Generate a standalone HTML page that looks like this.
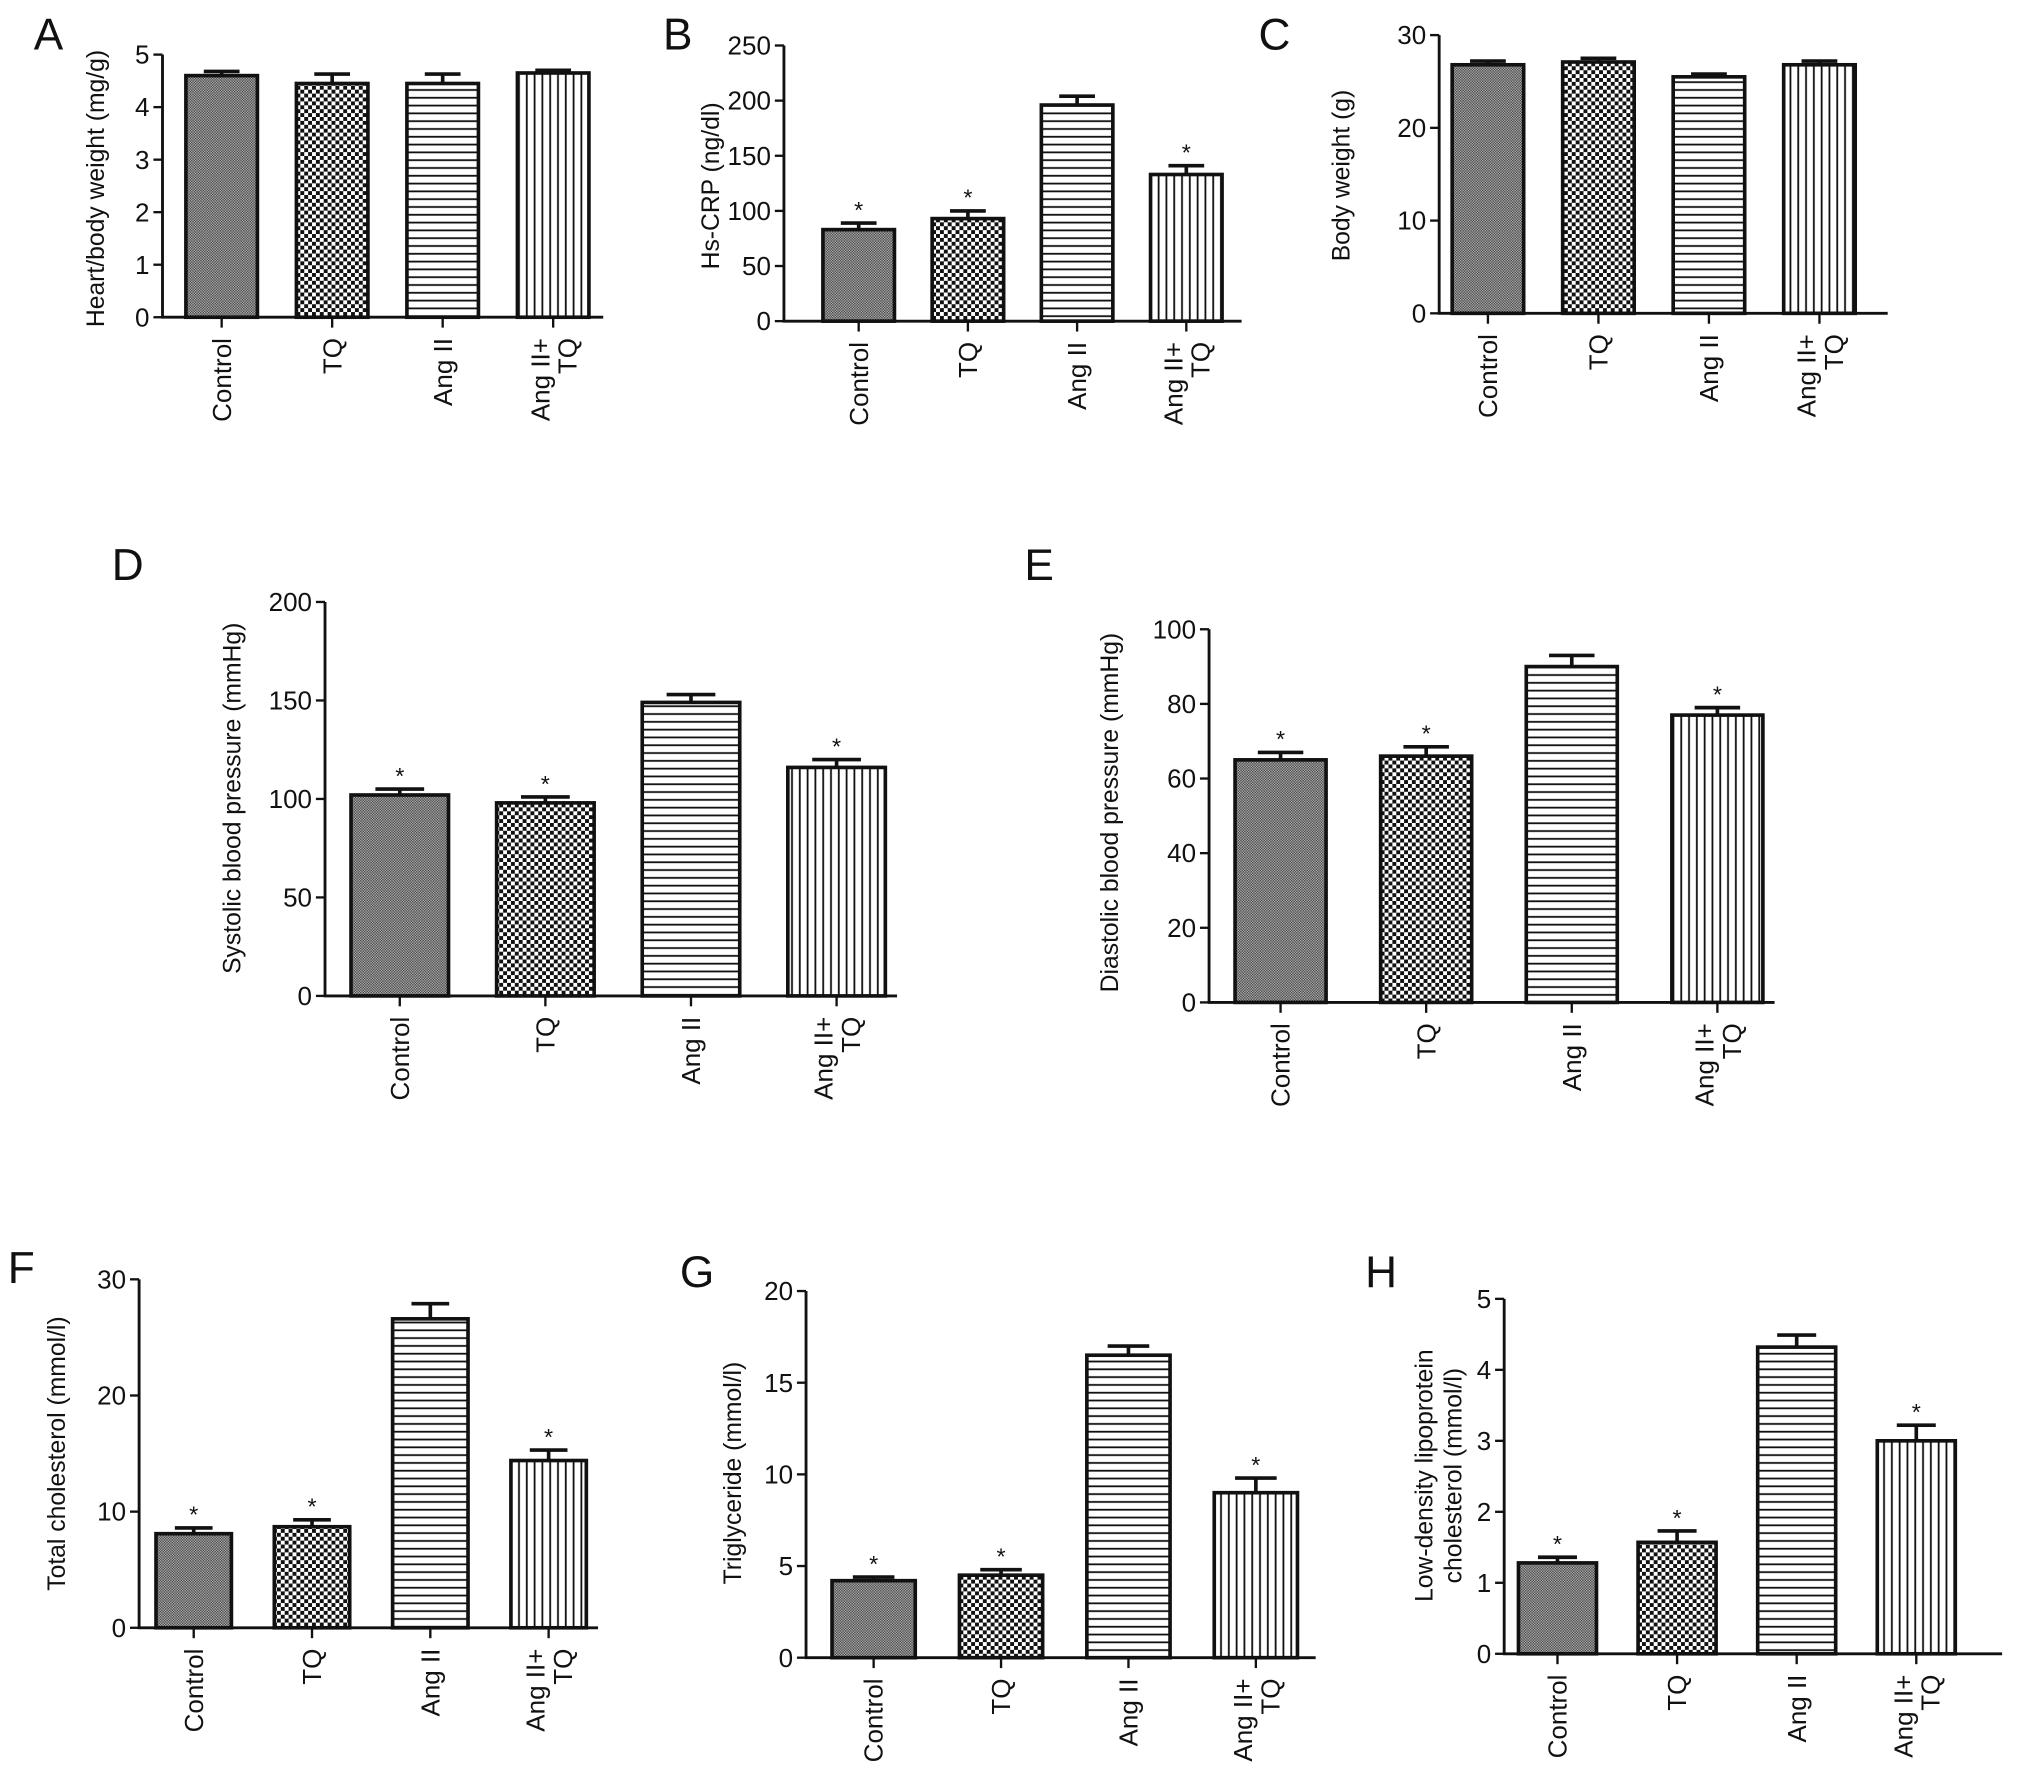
<!DOCTYPE html>
<html><head><meta charset="utf-8"><style>
html,body{margin:0;padding:0;background:#fff;}
svg{display:block;}
text{font-family:"Liberation Sans",Arial,sans-serif;fill:#111;}
</style></head><body>
<svg id="fig" width="2032" height="1776" viewBox="0 0 1563 1366" preserveAspectRatio="none" xmlns="http://www.w3.org/2000/svg">
<defs>
<pattern id="pC" width="2" height="2" patternUnits="userSpaceOnUse">
<rect width="2" height="2" fill="#b0b0b0"/><rect width="1" height="1" fill="#444"/><rect x="1" y="1" width="1" height="1" fill="#444"/>
</pattern>
<pattern id="pTQ" width="6" height="6" patternUnits="userSpaceOnUse">
<rect width="6" height="6" fill="#fff"/><rect width="3" height="3" fill="#111"/><rect x="3" y="3" width="3" height="3" fill="#111"/>
</pattern>
<pattern id="pH" width="6" height="6" patternUnits="userSpaceOnUse">
<rect width="6" height="6" fill="#fff"/><rect y="2.5" width="6" height="1.4" fill="#111"/>
</pattern>
<pattern id="pV" width="6" height="6" patternUnits="userSpaceOnUse">
<rect width="6" height="6" fill="#fff"/><rect x="2.5" width="1.4" height="6" fill="#111"/>
</pattern>
</defs>
</svg>
<script>
const categories = ["Control", "TQ", "Ang II", "Ang II+TQ"];
const valuesA = [4.6, 4.45, 4.45, 4.65];
const errA = [0.08, 0.18, 0.18, 0.05];
const starsA = [false, false, false, false];
const valuesB = [83, 93, 196, 133];
const errB = [6, 7, 8, 8];
const starsB = [true, true, false, true];
const valuesC = [26.8, 27.1, 25.5, 26.8];
const errC = [0.4, 0.4, 0.3, 0.4];
const starsC = [false, false, false, false];
const valuesD = [102, 98, 149, 116];
const errD = [3, 3, 4, 4];
const starsD = [true, true, false, true];
const valuesE = [65, 66, 90, 77];
const errE = [2, 2.5, 3, 2];
const starsE = [true, true, false, true];
const valuesF = [8.1, 8.7, 26.6, 14.4];
const errF = [0.5, 0.6, 1.3, 0.9];
const starsF = [true, true, false, true];
const valuesG = [4.2, 4.5, 16.5, 9.0];
const errG = [0.2, 0.3, 0.5, 0.8];
const starsG = [true, true, false, true];
const valuesH = [1.28, 1.57, 4.32, 3.0];
const errH = [0.08, 0.16, 0.17, 0.22];
const starsH = [true, true, false, true];
const ticksA = [0, 1, 2, 3, 4, 5];
const ticksB = [0, 50, 100, 150, 200, 250];
const ticksC = [0, 10, 20, 30];
const ticksD = [0, 50, 100, 150, 200];
const ticksE = [0, 20, 40, 60, 80, 100];
const ticksF = [0, 10, 20, 30];
const ticksG = [0, 5, 10, 15, 20];
const ticksH = [0, 1, 2, 3, 4, 5];

const fills = ["url(#pC)", "url(#pTQ)", "url(#pH)", "url(#pV)"];
const NS = "http://www.w3.org/2000/svg";
const svg = document.getElementById("fig");
const FS = 20;
function mk(tag, attrs, parent) {
  const e = document.createElementNS(NS, tag);
  for (const k in attrs) e.setAttribute(k, attrs[k]);
  (parent || svg).appendChild(e);
  return e;
}
function panel(p) {
  const g = mk("g", {});
  
  
  const ymax = p.ticks[p.ticks.length - 1];
  const yS = v => p.y0 - (v / ymax) * (p.y0 - p.yTop);
  const xS = i => p.first + i * p.step;
  const lt = mk("text", {x: p.lx, y: p.ly, "font-size": 34}, g);
  lt.textContent = p.id;
  
  
  const ya = mk("line", {x1: p.x0, x2: p.x0, y1: yS(ymax), y2: p.y0, stroke: "#111", "stroke-width": 2.2}, g);
  
  
  p.ticks.forEach(t => {
    mk("line", {x1: p.x0 - 7, x2: p.x0, y1: yS(t), y2: yS(t), stroke: "#111", "stroke-width": 1.8}, g);
    const tl = mk("text", {x: p.x0 - 10, y: yS(t) + 7, "font-size": FS, "text-anchor": "end"}, g);
    tl.textContent = t;
    
    
  });
  const xa = mk("line", {x1: p.x0 - 1, x2: p.xEnd, y1: p.y0, y2: p.y0, stroke: "#111", "stroke-width": 2.2}, g);
  
  
  const tg = mk("text", {transform: `translate(${p.tx},${p.tyc}) rotate(-90)`, "font-size": 19, "text-anchor": "middle"}, g);
  
  
  p.title.forEach((line, k) => {
    const ts = mk("tspan", {x: 0, dy: k === 0 ? 0 : 22}, tg);
    ts.textContent = line;
  });
  p.vals.forEach((v, i) => {
    const x = xS(i), cx = x + p.w / 2, top = yS(v), et = yS(v + p.err[i]);
    const b = mk("rect", {x: x, y: top, width: p.w, height: p.y0 - top, fill: fills[i], stroke: "#111", "stroke-width": 2.8}, g);
    
    
    const eb = mk("path", {d: `M${cx},${top}V${et}M${cx - p.w / 4},${et}H${cx + p.w / 4}`, stroke: "#111", "stroke-width": 2.8, fill: "none"}, g);
    
    
    if (p.stars[i]) {
      const s = mk("text", {x: cx, y: et - 4, "font-size": 18, "text-anchor": "middle"}, g);
      s.textContent = "*";
      
      
    }
    mk("line", {x1: cx, x2: cx, y1: p.y0, y2: p.y0 + 8, stroke: "#111", "stroke-width": 1.8}, g);
    const ly = p.y0 + 16;
    if (i === 3) {
      const c = mk("text", {transform: `translate(${cx - 3},${ly}) rotate(-90)`, "font-size": FS, "text-anchor": "end"}, g);
      
      
      const a = mk("tspan", {x: 0, y: 0}, c); a.textContent = "Ang II+";
      const b2 = mk("tspan", {x: 0, y: 21}, c); b2.textContent = "TQ";
    } else {
      const c = mk("text", {transform: `translate(${cx + 7},${ly}) rotate(-90)`, "font-size": FS, "text-anchor": "end"}, g);
      c.textContent = categories[i];
      
      
    }
  });
}
panel({id: "A", lx: 26, ly: 38, x0: 125, xEnd: 464, first: 143, w: 55, step: 85, yTop: 42, y0: 244, ticks: ticksA, vals: valuesA, err: errA, stars: starsA, tx: 80, tyc: 145, title: ["Heart/body weight (mg/g)"]});
panel({id: "B", lx: 510, ly: 38, x0: 603, xEnd: 955, first: 633, w: 55, step: 84, yTop: 35, y0: 247, ticks: ticksB, vals: valuesB, err: errB, stars: starsB, tx: 553, tyc: 143, title: ["Hs-CRP (ng/dl)"]});
panel({id: "C", lx: 968, ly: 38, x0: 1107, xEnd: 1452, first: 1117, w: 55, step: 85, yTop: 27, y0: 241, ticks: ticksC, vals: valuesC, err: errC, stars: starsC, tx: 1038, tyc: 135, title: ["Body weight (g)"]});
panel({id: "D", lx: 86, ly: 446, x0: 250, xEnd: 690, first: 270, w: 75, step: 112, yTop: 463, y0: 766, ticks: ticksD, vals: valuesD, err: errD, stars: starsD, tx: 185, tyc: 614, title: ["Systolic blood pressure (mmHg)"]});
panel({id: "E", lx: 788, ly: 446, x0: 930, xEnd: 1365, first: 950, w: 70, step: 112, yTop: 484, y0: 771, ticks: ticksE, vals: valuesE, err: errE, stars: starsE, tx: 860, tyc: 625, title: ["Diastolic blood pressure (mmHg)"]});
panel({id: "F", lx: 6, ly: 987, x0: 107, xEnd: 460, first: 120, w: 58, step: 91, yTop: 984, y0: 1252, ticks: ticksF, vals: valuesF, err: errF, stars: starsF, tx: 50, tyc: 1118, title: ["Total cholesterol (mmol/l)"]});
panel({id: "G", lx: 523, ly: 990, x0: 620, xEnd: 1012, first: 640, w: 64, step: 98, yTop: 993, y0: 1275, ticks: ticksG, vals: valuesG, err: errG, stars: starsG, tx: 570, tyc: 1133, title: ["Triglyceride (mmol/l)"]});
panel({id: "H", lx: 1050, ly: 990, x0: 1157, xEnd: 1540, first: 1168, w: 60, step: 92, yTop: 999, y0: 1272, ticks: ticksH, vals: valuesH, err: errH, stars: starsH, tx: 1102, tyc: 1135, title: ["Low-density lipoprotein", "cholesterol (mmol/l)"]});
</script>
</body></html>
